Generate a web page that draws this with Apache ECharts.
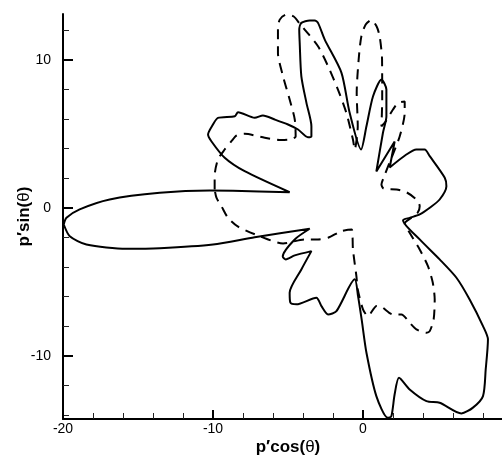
<!DOCTYPE html>
<html>
<head>
<meta charset="utf-8">
<script src="https://cdn.jsdelivr.net/npm/echarts@6/dist/echarts.min.js"></script>
<style>
  html, body { margin: 0; padding: 0; background: #fff; }
  #chart { width: 502px; height: 456px; }
</style>
</head>
<body>
<div id="chart"></div>
<script>
// Directivity pattern, solid curve: p'cos(theta), p'sin(theta)
const solidX = [-19.95,-19.55,-18.44,-15.77,-13.55,-10.0,-7.22,-3.55,-4.55,-5.35,-5.15,-4.55,-3.44,-4.11,-4.89,-4.84,-4.44,-3.11,-2.77,-2.33,-1.77,-0.55,-0.33,-0.09,0.23,0.89,1.65,1.89,2.11,2.40,3.11,4.23,5.11,6.56,7.33,8.0,8.18,8.33,8.0,7.11,6.23,5.11,3.78,2.67,3.11,3.78,4.45,5.11,5.56,5.45,4.45,4.11,3.56,2.89,1.78,2.11,0.89,1.33,1.56,1.56,1.23,0.67,0.23,-0.13,-0.89,-1.44,-2.55,-3.0,-3.22,-3.55,-4.11,-4.25,-4.22,-4.11,-3.77,-3.44,-3.44,-3.67,-4.33,-5.0,-5.89,-6.67,-7.22,-8.33,-8.55,-9.67,-10.0,-10.33,-10.11,-9.22,-7.89,-4.89,-8.67,-10.22,-13.55,-16.89,-18.89,-19.77,-19.95];
const solidY = [-1.13,-1.92,-2.48,-2.77,-2.73,-2.48,-1.99,-1.42,-2.14,-3.29,-3.49,-3.22,-2.93,-4.17,-5.74,-6.42,-6.53,-6.08,-6.65,-7.21,-6.99,-4.84,-5.97,-7.55,-9.80,-12.73,-14.20,-14.10,-12.61,-11.49,-12.28,-13.07,-13.18,-13.90,-13.51,-12.73,-10.93,-8.90,-8.0,-6.20,-4.73,-3.49,-2.14,-0.84,-0.68,-0.45,0,0.56,1.46,2.03,3.49,3.94,3.94,3.60,2.72,4.48,2.45,5.07,6.19,7.99,8.67,7.54,5.51,3.94,6.42,9.14,11.37,12.50,12.66,12.66,12.50,12.05,11.15,8.89,7.09,5.51,4.84,4.77,5.29,5.63,5.97,6.24,6.08,6.46,6.19,6.08,5.63,4.95,4.50,3.38,2.47,1.05,1.15,1.17,1.01,0.56,-0.11,-0.68,-1.13];

// Directivity pattern, dashed curve
const dashedX = [-9.89,-9.89,-9.67,-9.22,-8.77,-8.42,-7.89,-6.55,-5.55,-4.89,-4.49,-4.55,-4.89,-5.33,-5.67,-5.67,-5.55,-5.11,-4.62,-4.22,-3.89,-3.0,-2.33,-1.67,-1.11,-0.67,-0.55,-0.35,-0.42,-0.29,-0.11,0.18,0.56,0.91,1.11,1.27,1.28,1.23,1.51,2.0,2.33,2.78,2.78,2.45,1.91,1.38,1.23,1.38,2.23,2.89,3.56,3.78,3.65,3.25,2.78,3.11,3.78,4.33,4.65,4.78,4.71,4.45,4.23,3.56,3.11,2.56,2.0,1.23,0.91,0.33,0.0,-0.35,-0.44,-0.67,-0.75,-1.44,-2.33,-3.0,-3.89,-5.33,-6.89,-8.33,-9.0,-9.44,-9.77,-9.89];
const dashedY = [1.24,2.14,3.26,3.94,4.50,4.89,5.0,4.73,4.58,4.61,4.82,5.97,7.32,8.89,10.47,12.05,12.72,13.06,12.93,12.45,12.05,10.92,9.57,7.99,6.42,4.61,3.94,5.51,7.77,10.02,11.59,12.39,12.69,12.25,11.59,10.02,7.32,5.51,5.83,6.64,7.09,7.18,6.42,4.84,3.40,2.05,1.57,1.30,1.24,1.05,0.56,0.11,-0.32,-0.66,-1.06,-1.69,-2.82,-3.95,-5.05,-6.20,-7.55,-8.34,-8.45,-8.22,-7.77,-7.21,-7.21,-6.69,-6.64,-7.32,-6.87,-5.52,-4.62,-2.82,-1.47,-1.58,-2.03,-2.14,-2.14,-2.41,-1.92,-1.28,-0.68,0.11,0.68,1.24];

// Axis ticks
const xMajorTicks = [-20, -10, 0];
const xMinorTicks = [-18, -16, -14, -12, -8, -6, -4, -2, 2, 4, 6, 8];
const yMajorTicks = [-10, 0, 10];
const yMinorTicks = [-14, -12, -8, -6, -4, -2, 2, 4, 6, 8, 12];

const xRange = [-20, 10];
const yRange = [-14.28, 13.1];

const pairs = (xs, ys) => xs.map((x, i) => [x, ys[i]]);

const FONT = "'Liberation Sans', Arial, Helvetica, sans-serif";
const labelStyle = { fontFamily: FONT, fontSize: 14, color: '#000' };
const nameStyle = {
  fontFamily: FONT, fontSize: 16, fontWeight: 'bold', color: '#000',
  rich: {
    b: { fontFamily: FONT, fontSize: 17, fontWeight: 'bold', color: '#000' },
    t: { fontFamily: FONT, fontSize: 17, fontWeight: 'normal', color: '#000' }
  }
};

const chart = echarts.init(document.getElementById('chart'), null, { renderer: 'canvas' });

chart.setOption({
  animation: false,
  backgroundColor: '#fff',
  grid: { left: 63, top: 14, bottom: 37, right: -11, containLabel: false, outerBoundsMode: 'none' },
  xAxis: [
    {
      type: 'value', min: xRange[0], max: xRange[1], position: 'bottom',
      name: '{b|p′cos(}{t|θ}{b|)}', nameLocation: 'middle', nameGap: 20, nameMoveOverlap: false,
      nameTextStyle: nameStyle,
      axisLine: { show: true, onZero: false, lineStyle: { color: '#000', width: 2 } },
      axisTick: { show: true, inside: true, length: 9, customValues: xMajorTicks, lineStyle: { color: '#000', width: 2 } },
      axisLabel: { show: true, margin: 3, customValues: xMajorTicks, ...labelStyle },
      splitLine: { show: false }
    },
    {
      type: 'value', min: xRange[0], max: xRange[1], position: 'bottom',
      axisLine: { show: false, onZero: false },
      axisTick: { show: true, inside: true, length: 6, customValues: xMinorTicks, lineStyle: { color: '#222', width: 1 } },
      axisLabel: { show: false },
      splitLine: { show: false }
    }
  ],
  yAxis: [
    {
      type: 'value', min: yRange[0], max: yRange[1], position: 'left',
      name: '{b|p′sin(}{t|θ}{b|)}', nameLocation: 'middle', nameGap: 30, nameMoveOverlap: false,
      nameTextStyle: nameStyle,
      axisLine: { show: true, onZero: false, lineStyle: { color: '#000', width: 2 } },
      axisTick: { show: true, inside: true, length: 10, customValues: yMajorTicks, lineStyle: { color: '#000', width: 2 } },
      axisLabel: { show: true, margin: 12, customValues: yMajorTicks, ...labelStyle },
      splitLine: { show: false }
    },
    {
      type: 'value', min: yRange[0], max: yRange[1], position: 'left',
      axisLine: { show: false, onZero: false },
      axisTick: { show: true, inside: true, length: 6, customValues: yMinorTicks, lineStyle: { color: '#222', width: 1 } },
      axisLabel: { show: false },
      splitLine: { show: false }
    }
  ],
  series: [
    {
      type: 'line', xAxisIndex: 0, yAxisIndex: 0,
      data: pairs(solidX, solidY),
      showSymbol: false, smooth: 0.25, clip: true,
      lineStyle: { color: '#000', width: 2, type: 'solid' }
    },
    {
      type: 'line', xAxisIndex: 0, yAxisIndex: 0,
      data: pairs(dashedX, dashedY),
      showSymbol: false, smooth: 0.25, clip: true,
      lineStyle: { color: '#000', width: 2, type: [10, 7] }
    }
  ]
});
</script>
</body>
</html>
